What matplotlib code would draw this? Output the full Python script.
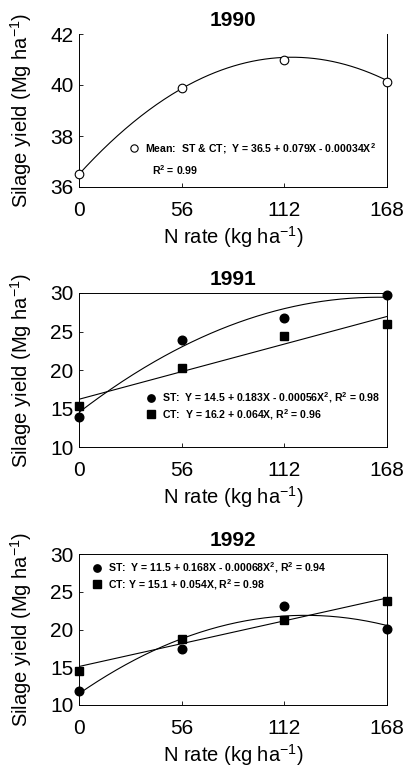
import numpy as np
import matplotlib
matplotlib.use("Agg")
import matplotlib.pyplot as plt

plt.rcParams["font.family"] = ["Liberation Sans", "DejaVu Sans"]
plt.rcParams["mathtext.default"] = "regular"

n_rates = [0, 56, 112, 168]

# 1990 (mean of ST & CT)
mean_1990 = [36.5, 39.9, 41.0, 40.1]
coef_1990 = [36.5, 0.079, -0.00034]

# 1991
st_1991 = [13.9, 23.9, 26.8, 29.8]
ct_1991 = [15.3, 20.2, 24.4, 26.0]
coef_st_1991 = [14.5, 0.183, -0.00056]
coef_ct_1991 = [16.2, 0.064, 0.0]

# 1992
st_1992 = [11.8, 17.4, 23.1, 20.1]
ct_1992 = [14.5, 18.8, 21.2, 23.8]
coef_st_1992 = [11.5, 0.168, -0.00068]
coef_ct_1992 = [15.1, 0.054, 0.0]

YLABEL = "Silage yield (Mg ha$^{-1}$)"
XLABEL = "N rate (kg ha$^{-1}$)"


def fit_curve(coef):
    x = np.linspace(0, 168, 200)
    return x, coef[0] + coef[1] * x + coef[2] * x ** 2


def style_axes(ax, title, ylim, yticks):
    ax.set_xlim(0, 168)
    ax.set_ylim(*ylim)
    ax.set_xticks(n_rates)
    ax.set_yticks(yticks)
    ax.tick_params(direction="in", length=3, width=0.6, labelsize=15, pad=4)
    ax.tick_params(axis="x", pad=10)
    for s in ax.spines.values():
        s.set_linewidth(0.7)
    ax.set_title(title, fontsize=15, fontweight="bold", pad=6)
    ax.set_ylabel(YLABEL, fontsize=14.5)
    ax.yaxis.set_label_coords(-0.145, 0.5)
    ax.set_xlabel(XLABEL, fontsize=14.5, labelpad=3)


fig = plt.figure(figsize=(4.05, 7.71), dpi=100)
W, H = 405, 771


def add_axes(top, bottom, left=79, right=387):
    return fig.add_axes([left / W, 1 - bottom / H, (right - left) / W, (bottom - top) / H])


mk = dict(markersize=6.2, clip_on=False, zorder=3, linestyle="none")
leg_kw = dict(loc="upper left", frameon=False, prop={"size": 7.6, "weight": "bold"},
              handletextpad=0.4, borderaxespad=0, handlelength=1.2,
              labelspacing=0.15, markerscale=0.85)

# ---- 1990 ----
ax1 = add_axes(34, 187)
x, y = fit_curve(coef_1990)
ax1.plot(x, y, color="black", lw=0.8)
h1, = ax1.plot(n_rates, mean_1990, marker="o", mfc="white", mec="black", mew=0.8, **mk)
style_axes(ax1, "1990", (36, 42), [36, 38, 40, 42])
ax1.spines["top"].set_visible(False)
ax1.legend([h1], ["Mean:  ST & CT;  Y = 36.5 + 0.079X - 0.00034X$^2$"],
           bbox_to_anchor=(0.145, 0.33), **leg_kw)
ax1.text(0.237, 0.11, "R$^2$ = 0.99", transform=ax1.transAxes,
         fontsize=7.6, fontweight="bold", va="center")

# ---- 1991 ----
ax2 = add_axes(293, 447)
for coef in (coef_st_1991, coef_ct_1991):
    x, y = fit_curve(coef)
    ax2.plot(x, y, color="black", lw=0.8)
h2a, = ax2.plot(n_rates, st_1991, marker="o", color="black", **mk)
h2b, = ax2.plot(n_rates, ct_1991, marker="s", color="black", **mk)
style_axes(ax2, "1991", (10, 30), [10, 15, 20, 25, 30])
ax2.legend([h2a, h2b],
           ["ST:  Y = 14.5 + 0.183X - 0.00056X$^2$, R$^2$ = 0.98",
            "CT:  Y = 16.2 + 0.064X, R$^2$ = 0.96"],
           bbox_to_anchor=(0.2, 0.395), **leg_kw)

# ---- 1992 ----
ax3 = add_axes(554, 705)
for coef in (coef_st_1992, coef_ct_1992):
    x, y = fit_curve(coef)
    ax3.plot(x, y, color="black", lw=0.8)
h3a, = ax3.plot(n_rates, st_1992, marker="o", color="black", **mk)
h3b, = ax3.plot(n_rates, ct_1992, marker="s", color="black", **mk)
style_axes(ax3, "1992", (10, 30), [10, 15, 20, 25, 30])
ax3.legend([h3a, h3b],
           ["ST:  Y = 11.5 + 0.168X - 0.00068X$^2$, R$^2$ = 0.94",
            "CT: Y = 15.1 + 0.054X, R$^2$ = 0.98"],
           bbox_to_anchor=(0.025, 0.985), **leg_kw)

fig.savefig("out.png", dpi=100)
